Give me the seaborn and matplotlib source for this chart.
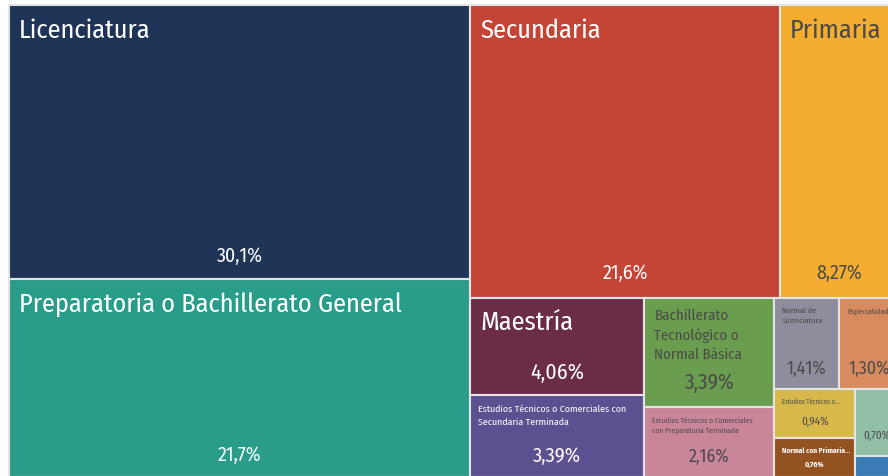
import matplotlib
matplotlib.use("Agg")
import matplotlib.pyplot as plt
import seaborn as sns
from matplotlib import font_manager
from matplotlib.patches import Rectangle

# data: share of workers by schooling level (%)
niveles = [
    "Licenciatura",
    "Preparatoria o Bachillerato General",
    "Secundaria",
    "Primaria",
    "Maestría",
    "Estudios Técnicos o Comerciales con Secundaria Terminada",
    "Bachillerato Tecnológico o Normal Básica",
    "Estudios Técnicos o Comerciales con Preparatoria Terminada",
    "Normal de Licenciatura",
    "Especialidad",
    "Estudios Técnicos o Comerciales con Primaria Terminada",
    "Normal con Primaria Terminada",
    "Doctorado",
    "Normal con Secundaria Terminada",
]
porcentajes = [30.1, 21.7, 21.6, 8.27, 4.06, 3.39, 3.39, 2.16, 1.41, 1.30, 0.94, 0.76, 0.70, 0.22]

# style
colores = {
    "Licenciatura": "#1f3557",
    "Preparatoria o Bachillerato General": "#2a9d8a",
    "Secundaria": "#c44536",
    "Primaria": "#f4ad2f",
    "Maestría": "#6b2c47",
    "Estudios Técnicos o Comerciales con Secundaria Terminada": "#5c5090",
    "Bachillerato Tecnológico o Normal Básica": "#6a9e4e",
    "Estudios Técnicos o Comerciales con Preparatoria Terminada": "#c98699",
    "Normal de Licenciatura": "#8d8d9c",
    "Especialidad": "#d88b5e",
    "Estudios Técnicos o Comerciales con Primaria Terminada": "#d6b94a",
    "Normal con Primaria Terminada": "#93521f",
    "Doctorado": "#90bfa6",
    "Normal con Secundaria Terminada": "#3b7bb5",
}
# shown title, title size, share size, share offset from cell bottom (px), bold
# sizes are in "reference" points and get rescaled to the font that is found
etiquetas = {
    "Licenciatura": ("Licenciatura", 20, 15, 23, False),
    "Preparatoria o Bachillerato General": ("Preparatoria o Bachillerato General", 20, 15, 22, False),
    "Secundaria": ("Secundaria", 20, 15, 24, False),
    "Primaria": ("Primaria", 20, 15, 24, False),
    "Maestría": ("Maestría", 20, 16.5, 23, False),
    "Estudios Técnicos o Comerciales con Secundaria Terminada":
        ("Estudios Técnicos o Comerciales con\nSecundaria Terminada", 7.5, 15.5, 21, False),
    "Bachillerato Tecnológico o Normal Básica":
        ("Bachillerato\nTecnológico o\nNormal Básica", 11.3, 16, 24, False),
    "Estudios Técnicos o Comerciales con Preparatoria Terminada":
        ("Estudios Técnicos o Comerciales\ncon Preparatoria Terminada", 5.7, 13.5, 20, False),
    "Normal de Licenciatura": ("Normal de\nLicenciatura", 6.1, 13.5, 20, False),
    "Especialidad": ("Especialidad", 6.1, 13.5, 20, False),
    "Estudios Técnicos o Comerciales con Primaria Terminada":
        ("Estudios Técnicos o...", 5.0, 8.5, 16, False),
    "Normal con Primaria Terminada": ("Normal con Primaria...", 5.6, 6, 12, True),
    "Doctorado": (None, 0, 8.5, 20, False),
    "Normal con Secundaria Terminada": (None, 0, 0, 0, False),
}

PHI = (1 + 5 ** 0.5) / 2


def squarify(values, x0, y0, x1, y1, ratio=PHI):
    """d3-style squarified treemap, values sorted descending."""
    rects = []
    n = len(values)
    value = float(sum(values))
    i0 = i1 = 0
    while i0 < n:
        dx, dy = x1 - x0, y1 - y0
        sum_v = values[i1]
        i1 += 1
        min_v = max_v = sum_v
        alpha = max(dy / dx, dx / dy) / (value * ratio)
        beta = sum_v * sum_v * alpha
        min_ratio = max(max_v / beta, beta / min_v)
        while i1 < n:
            v = values[i1]
            sum_v += v
            min_v, max_v = min(min_v, v), max(max_v, v)
            beta = sum_v * sum_v * alpha
            new_ratio = max(max_v / beta, beta / min_v)
            if new_ratio > min_ratio:
                sum_v -= v
                break
            min_ratio = new_ratio
            i1 += 1
        row = values[i0:i1]
        if dx < dy:
            # row across the top
            h = dy * sum_v / value
            x = x0
            for v in row:
                w = dx * v / sum_v
                rects.append((x, y0, w, h))
                x += w
            y0 += h
        else:
            # column on the left
            w = dx * sum_v / value
            y = y0
            for v in row:
                h = dy * v / sum_v
                rects.append((x0, y, w, h))
                y += h
            x0 += w
        value -= sum_v
        i0 = i1
    return rects


def fmt(v):
    s = f"{v:.1f}" if v >= 10 else f"{v:.2f}"
    return s.replace(".", ",") + "%"


def text_color(hexcol):
    r, g, b = [int(hexcol[i:i + 2], 16) / 255 for i in (1, 3, 5)]
    lum = 0.299 * r + 0.587 * g + 0.114 * b
    return "white" if lum < 0.5 else "#4a4a4a"


def pick_font():
    fonts = font_manager.fontManager.ttflist
    names = {f.name for f in fonts}
    for cand in ["Fira Sans Condensed", "Roboto Condensed", "Liberation Sans Narrow",
                 "Open Sans Condensed", "Ubuntu Condensed"]:
        if cand in names:
            return cand, "normal"
    if any(f.name == "DejaVu Sans" and f.stretch == "condensed" for f in fonts):
        return "DejaVu Sans", "condensed"
    return "Roboto" if "Roboto" in names else "DejaVu Sans", "normal"


sns.set_theme(style="white")
FONT, STRETCH = pick_font()
plt.rcParams["font.family"] = [FONT, "DejaVu Sans"]

fig = plt.figure(figsize=(8.88, 4.76), dpi=100)
ax = fig.add_axes([0, 0, 1, 1])
ax.set_xlim(0, 888)
ax.set_ylim(476, 0)
ax.axis("off")


def width_px(s, size):
    t = fig.text(0, 0, s, fontsize=size, fontstretch=STRETCH)
    w = t.get_window_extent(fig.canvas.get_renderer()).width
    t.remove()
    return w


# scale sizes so that widths match the reference picture
k_title = 384 / width_px("Preparatoria o Bachillerato General", 20)
k_pct = 46 / width_px("30,1%", 15)

# treemap box runs a bit past the right edge of the picture (cropped)
rects = squarify(porcentajes, 9, 5, 899, 477)

for nombre, pct, (x, y, w, h) in zip(niveles, porcentajes, rects):
    col = colores[nombre]
    ax.add_patch(Rectangle((x, y), w, h, facecolor=col, edgecolor="#e4e4e4", linewidth=1.5))
    titulo, tfs, pfs, poff, bold = etiquetas[nombre]
    tc = text_color(col)
    if titulo:
        pad_x = 10 if tfs >= 11 else 8
        pad_y = 13 if tfs >= 15 else (11 if tfs >= 11 else 10)
        ax.text(x + pad_x, y + pad_y, titulo, fontsize=tfs * k_title, color=tc,
                ha="left", va="top", linespacing=1.45, fontstretch=STRETCH,
                fontweight="bold" if bold else "normal", clip_on=True)
    if pfs:
        ax.text(x + w / 2, y + h - poff, fmt(pct), fontsize=pfs * k_pct, color=tc,
                ha="center", va="center", fontstretch=STRETCH,
                fontweight="bold" if bold else "normal")

fig.savefig("out.png", dpi=100)
